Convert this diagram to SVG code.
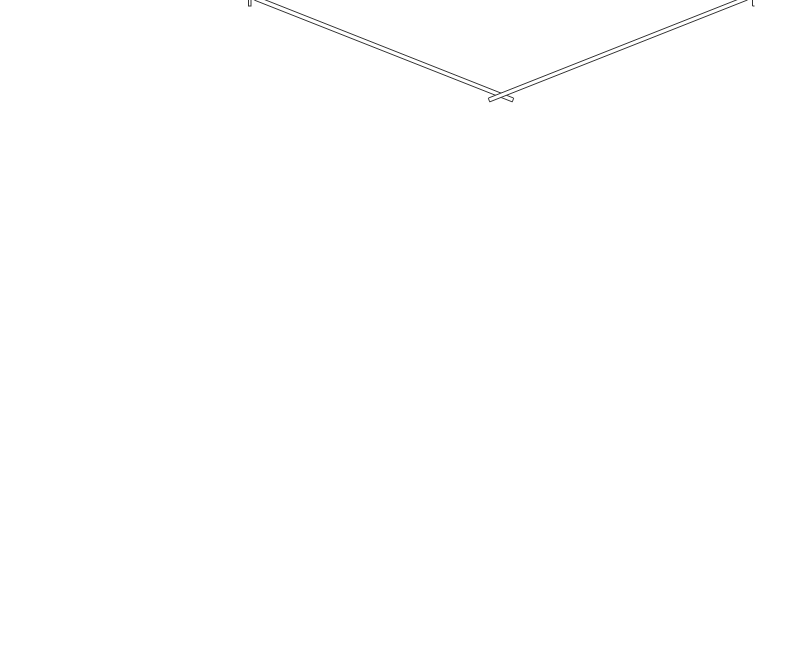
<svg xmlns="http://www.w3.org/2000/svg" width="800" height="651" viewBox="0 0 800 651">
<style>
.s{fill:#fff;stroke:#333;stroke-width:1}
</style>
<rect x="0" y="0" width="800" height="651" fill="#fff"/>
<g id="left-strip">
<polygon class="s" points="255.7,-3.9 513.7,98.1 512.3,101.9 254.3,0.1"/>
<rect class="s" x="248.5" y="-2" width="2.5" height="8"/>
</g>
<g id="right-strip">
<polygon class="s" points="747.7,-0.1 489.7,101.9 488.3,98.1 746.3,-3.9"/>
<path d="M754.5,-1 L752.5,-1 L752.5,6 L754.5,6" fill="none" stroke="#333" stroke-width="1"/>
</g>
</svg>
